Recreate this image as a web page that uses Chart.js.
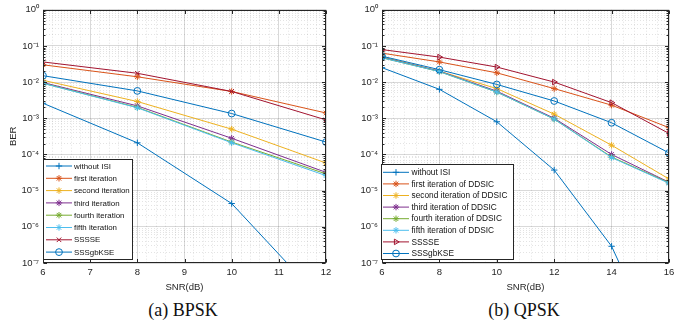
<!DOCTYPE html>
<html>
<head>
<meta charset="utf-8">
<script src="https://cdn.jsdelivr.net/npm/chart.js@4.4.1/dist/chart.umd.min.js"></script>
<style>
html,body{margin:0;padding:0;background:#fff;width:692px;height:322px;overflow:hidden}
.wrap{position:absolute;top:0;width:346px;height:296px}
#w1{left:0}
#w2{left:346px}
.cap{position:absolute;top:299px;height:22px;line-height:22px;font-family:"Liberation Serif","Times New Roman",serif;font-size:18px;color:#111;white-space:nowrap;transform:translateX(-50%)}
</style>
</head>
<body>
<div class="wrap" id="w1"><canvas id="c1" width="346" height="296"></canvas></div>
<div class="wrap" id="w2"><canvas id="c2" width="346" height="296"></canvas></div>
<div class="cap" style="left:183px">(a) BPSK</div>
<div class="cap" style="left:524px">(b) QPSK</div>
<script>
// ---------------- data ----------------
const bpskSNR = [6, 8, 10, 12];
const bpskNames = ['without ISI', 'first iteration', 'second iteration', 'third iteration',
  'fourth iteration', 'fifth iteration', 'SSSSE', 'SSSgbKSE'];
const bpskWithoutISI = [2.6e-3, 2.1e-4, 4.4e-6, 7e-9];
const bpskFirst      = [3.0e-2, 1.4e-2, 5.5e-3, 1.4e-3];
const bpskSecond     = [1.12e-2, 2.9e-3, 5.0e-4, 5.8e-5];
const bpskThird      = [9.7e-3, 2.2e-3, 2.8e-4, 3.2e-5];
const bpskFourth     = [9.3e-3, 2.0e-3, 2.2e-4, 2.9e-5];
const bpskFifth      = [9.2e-3, 1.95e-3, 2.1e-4, 2.6e-5];
const bpskSSSSE      = [3.6e-2, 1.75e-2, 5.5e-3, 9.0e-4];
const bpskSSSgbKSE   = [1.5e-2, 5.7e-3, 1.35e-3, 2.2e-4];

const qpskSNR = [6, 8, 10, 12, 14, 16];
const qpskNames = ['without ISI', 'first iteration of DDSIC', 'second iteration of DDSIC',
  'third iteration of DDSIC', 'fourth iteration of DDSIC', 'fifth iteration of DDSIC', 'SSSSE', 'SSSgbKSE'];
const qpskWithoutISI = [2.5e-2, 6.3e-3, 8.0e-4, 3.7e-5, 2.9e-7, 1e-10];
const qpskFirst      = [6.3e-2, 3.6e-2, 1.8e-2, 6.6e-3, 2.3e-3, 5.5e-4];
const qpskSecond     = [5.0e-2, 2.0e-2, 6.6e-3, 1.3e-3, 1.8e-4, 2.1e-5];
const qpskThird      = [4.8e-2, 2.0e-2, 5.6e-3, 1.0e-3, 1.0e-4, 1.7e-5];
const qpskFourth     = [4.7e-2, 1.95e-2, 5.3e-3, 9.5e-4, 8.5e-5, 1.65e-5];
const qpskFifth      = [4.7e-2, 1.95e-2, 5.3e-3, 9.5e-4, 8.2e-5, 1.6e-5];
const qpskSSSSE      = [7.9e-2, 4.9e-2, 2.6e-2, 1.0e-2, 2.7e-3, 3.8e-4];
const qpskSSSgbKSE   = [5.2e-2, 2.2e-2, 8.6e-3, 3.0e-3, 7.5e-4, 1.1e-4];

const bpskXTicks = [6, 7, 8, 9, 10, 11, 12];
const qpskXTicks = [6, 8, 10, 12, 14, 16];
const berTickLabels = ['10⁰', '10⁻¹', '10⁻²', '10⁻³', '10⁻⁴', '10⁻⁵', '10⁻⁶', '10⁻⁷'];

// ---------------- styles ----------------
const colors = ['#0072BD', '#D95319', '#EDB120', '#7E2F8E', '#77AC30', '#4DBEEE', '#A2142F', '#0072BD'];
const bpskMarkers = ['cross', 'star', 'star', 'star', 'star', 'star', 'crossRot', 'circle'];
const qpskMarkers = ['cross', 'star', 'star', 'star', 'star', 'star', 'triangle', 'circle'];
const qpskRot = [0, 0, 0, 0, 0, 0, 90, 0];

const AX = '#262626';
const FONT = '"Liberation Sans", Arial, sans-serif';
const AXFS = 9.5;

function makeDatasets(snr, names, series, markers, rots) {
  return series.map((vals, i) => ({
    label: names[i],
    data: vals.map((v, j) => ({ x: snr[j], y: v })),
    borderColor: colors[i],
    backgroundColor: 'rgba(0,0,0,0)',
    borderWidth: 1,
    pointStyle: markers[i],
    pointRotation: rots ? rots[i] : 0,
    pointRadius: markers[i] === 'circle' ? 3.4 : 3.2,
    pointBorderWidth: 1,
    pointBackgroundColor: 'rgba(0,0,0,0)',
    pointBorderColor: colors[i],
    order: -i,
    tension: 0
  }));
}

function isMajorLog(v) {
  const e = Math.log10(v);
  return Math.abs(e - Math.round(e)) < 1e-6;
}

const boxPlugin = {
  id: 'matlabBox',
  afterDraw(chart, args, opts) {
    const ctx = chart.ctx;
    const a = chart.chartArea;
    const L = Math.round(a.left) + 0.5, R = Math.round(a.right) - 0.5;
    const T = Math.round(a.top) + 0.5, B = Math.round(a.bottom) - 0.5;
    ctx.save();
    ctx.strokeStyle = AX;
    ctx.lineWidth = 1;
    ctx.strokeRect(L, T, R - L, B - T);
    // inward ticks
    const xs = chart.scales.x, ys = chart.scales.y;
    ctx.beginPath();
    opts.xMajor.forEach(v => {
      const px = Math.round(xs.getPixelForValue(v)) + 0.5;
      ctx.moveTo(px, B); ctx.lineTo(px, B - 3.5);
      ctx.moveTo(px, T); ctx.lineTo(px, T + 3.5);
    });
    ys.ticks.forEach(t => {
      const py = Math.round(ys.getPixelForValue(t.value)) + 0.5;
      const len = isMajorLog(t.value) ? 3.5 : 2;
      ctx.moveTo(L, py); ctx.lineTo(L + len, py);
      ctx.moveTo(R, py); ctx.lineTo(R - len, py);
    });
    ctx.stroke();

    // legend
    const lg = opts.legend;
    ctx.fillStyle = '#fff';
    ctx.fillRect(lg.x, lg.y, lg.w, lg.h);
    ctx.strokeStyle = AX;
    ctx.strokeRect(Math.round(lg.x) + 0.5, Math.round(lg.y) + 0.5, Math.round(lg.w), Math.round(lg.h));
    ctx.font = lg.fontSize + 'px ' + FONT;
    ctx.textBaseline = 'middle';
    ctx.textAlign = 'left';
    chart.data.datasets.forEach((ds, i) => {
      const yy = lg.row0 + i * lg.rowH;
      ctx.strokeStyle = ds.borderColor;
      ctx.lineWidth = 1;
      ctx.beginPath();
      ctx.moveTo(lg.lx0, yy); ctx.lineTo(lg.lx1, yy);
      ctx.stroke();
      ctx.fillStyle = 'rgba(0,0,0,0)';
      if (Chart.helpers && Chart.helpers.drawPoint) {
        Chart.helpers.drawPoint(ctx, {
          pointStyle: ds.pointStyle, rotation: ds.pointRotation || 0,
          radius: ds.pointRadius, borderWidth: 1
        }, (lg.lx0 + lg.lx1) / 2, yy);
      }
      ctx.fillStyle = '#111';
      ctx.fillText(ds.label, lg.tx, yy + 0.5);
    });
    ctx.restore();
  }
};

function makeChart(id, snr, names, series, markers, rots, xMajor, xMinorStep, cfg) {
  const xMin = xMajor[0], xMax = xMajor[xMajor.length - 1];
  const xTickVals = [];
  for (let k = 0; xMin + k * xMinorStep <= xMax + 1e-9; k++) {
    xTickVals.push(Math.round((xMin + k * xMinorStep) * 100) / 100);
  }
  const isMajorX = v => xMajor.some(m => Math.abs(m - v) < 1e-6);
  const yTickVals = [];
  for (let e = -7; e <= 0; e++) {
    for (let m = 1; m <= 9; m++) {
      const v = m * Math.pow(10, e);
      if (e === 0 && m > 1) break;
      yTickVals.push(v);
    }
  }
  return new Chart(document.getElementById(id), {
    type: 'line',
    data: { datasets: makeDatasets(snr, names, series, markers, rots) },
    options: {
      responsive: false,
      animation: false,
      devicePixelRatio: 1,
      layout: { padding: { top: 8, right: cfg.padRight, left: 0, bottom: 0 } },
      plugins: {
        legend: { display: false },
        tooltip: { enabled: false },
        matlabBox: { xMajor: xMajor, legend: cfg.legend }
      },
      scales: {
        x: {
          type: 'linear',
          min: xMin, max: xMax,
          afterBuildTicks: s => { s.ticks = xTickVals.map(v => ({ value: v })); },
          afterFit: s => { s.height = 33; },
          ticks: {
            autoSkip: false, maxRotation: 0, padding: 4,
            color: AX, font: { family: FONT, size: AXFS },
            callback: v => isMajorX(v) ? String(Math.round(v)) : ''
          },
          grid: {
            drawTicks: false,
            color: c => isMajorX(c.tick.value) ? 'rgba(0,0,0,0.15)' : 'rgba(0,0,0,0.11)'
          },
          border: { display: false, dash: c => (c.tick && isMajorX(c.tick.value)) ? [] : [1, 2] },
          title: {
            display: true, text: 'SNR(dB)', color: AX,
            font: { family: FONT, size: AXFS }, padding: { top: 0, bottom: 3 }
          }
        },
        y: {
          type: 'logarithmic',
          min: 1e-7, max: 1,
          afterBuildTicks: s => { s.ticks = yTickVals.map(v => ({ value: v })); },
          afterFit: s => { s.width = cfg.yWidth; },
          ticks: {
            autoSkip: false, padding: 4,
            color: AX, font: { family: FONT, size: AXFS },
            callback: v => isMajorLog(v) ? berTickLabels[-Math.round(Math.log10(v))] : ''
          },
          grid: {
            drawTicks: false,
            color: c => isMajorLog(c.tick.value) ? 'rgba(0,0,0,0.15)' : 'rgba(0,0,0,0.11)'
          },
          border: { display: false, dash: c => (c.tick && isMajorLog(c.tick.value)) ? [] : [1, 2] },
          title: {
            display: cfg.yTitle, text: 'BER', color: AX,
            font: { family: FONT, size: AXFS }, padding: { top: 8, bottom: 0 }
          }
        }
      }
    },
    plugins: [boxPlugin]
  });
}

makeChart('c1', bpskSNR, bpskNames,
  [bpskWithoutISI, bpskFirst, bpskSecond, bpskThird, bpskFourth, bpskFifth, bpskSSSSE, bpskSSSgbKSE],
  bpskMarkers, null, bpskXTicks, 0.2,
  { padRight: 20, yWidth: 43, yTitle: true,
    legend: { x: 43, y: 159, w: 89, h: 100, row0: 166, rowH: 12.3, lx0: 46, lx1: 72, tx: 74, fontSize: 7.9 } });

makeChart('c2', qpskSNR, qpskNames,
  [qpskWithoutISI, qpskFirst, qpskSecond, qpskThird, qpskFourth, qpskFifth, qpskSSSSE, qpskSSSgbKSE],
  qpskMarkers, qpskRot, qpskXTicks, 0.4,
  { padRight: 23, yWidth: 36, yTitle: false,
    legend: { x: 35, y: 164, w: 132, h: 95, row0: 172.3, rowH: 11.6, lx0: 37, lx1: 63, tx: 65.5, fontSize: 8.3 } });
</script>
</body>
</html>
